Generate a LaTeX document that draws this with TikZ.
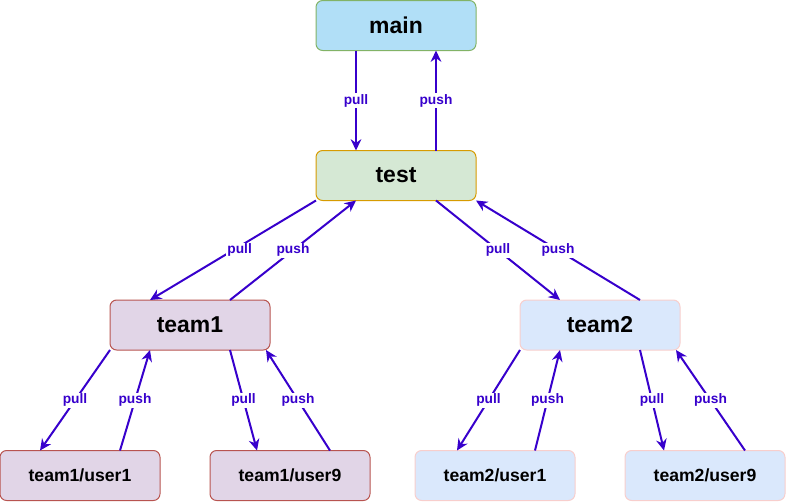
\documentclass[tikz,border=0pt]{standalone}
\usepackage{fontspec}
\setmainfont{Liberation Sans}
\usetikzlibrary{arrows.meta}
\definecolor{arrowc}{HTML}{3700CC}
\definecolor{mainfill}{HTML}{B1DFF7}
\definecolor{maindraw}{HTML}{82B366}
\definecolor{testfill}{HTML}{D5E8D4}
\definecolor{testdraw}{HTML}{D79B00}
\definecolor{purfill}{HTML}{E1D5E7}
\definecolor{purdraw}{HTML}{B85450}
\definecolor{blufill}{HTML}{DAE8FC}
\definecolor{bludraw}{HTML}{F8CECC}
\begin{document}
\begin{tikzpicture}[x=0.75pt,y=-0.75pt,
  box/.style={rounded corners=5pt, line width=0.75pt, minimum width=120pt, minimum height=37.5pt, inner sep=0pt, outer sep=0pt, font=\bfseries},
  bigbox/.style={box, font=\fontsize{17.2}{20}\selectfont\bfseries},
  smallbox/.style={box, font=\fontsize{13.2}{15}\selectfont\bfseries},
  mainbox/.style={bigbox, fill=mainfill, draw=maindraw},
  testbox/.style={bigbox, fill=testfill, draw=testdraw},
  purbox/.style={fill=purfill, draw=purdraw},
  blubox/.style={fill=blufill, draw=bludraw},
  conn/.style={draw=arrowc, line width=1.5pt, -{Stealth[length=8.5pt,width=8pt,inset=2.8pt]}},
  lbl/.style={fill=white, text=arrowc, font=\fontsize{10.3}{12}\selectfont\bfseries, inner sep=1pt, pos=0.5}
]
\useasboundingbox (0,0) rectangle (786,501);
\node[mainbox] (main) at (396,25.5) {main};
\node[testbox] (test) at (396,175.5) {test};
\node[bigbox, purbox] (team1) at (190,325) {team1};
\node[bigbox, blubox] (team2) at (600,325) {team2};
\node[smallbox, purbox] (t1u1) at (80,475.5) {team1/user1};
\node[smallbox, purbox] (t1u9) at (290,475.5) {team1/user9};
\node[smallbox, blubox] (t2u1) at (495,475.5) {team2/user1};
\node[smallbox, blubox] (t2u9) at (705,475.5) {team2/user9};

\draw[conn] ([xshift=-30pt]main.south) -- node[lbl] {pull} ([xshift=-30pt]test.north);
\draw[conn] ([xshift=30pt]test.north) -- node[lbl] {push} ([xshift=30pt]main.south);

\draw[conn] (test.south west) -- node[lbl, xshift=5pt] {pull} ([xshift=-30pt]team1.north);
\draw[conn] ([xshift=30pt]team1.north) -- node[lbl] {push} ([xshift=-30pt]test.south);
\draw[conn] ([xshift=30pt]test.south) -- node[lbl] {pull} ([xshift=-30pt]team2.north);
\draw[conn] ([xshift=30pt]team2.north) -- node[lbl] {push} (test.south east);

\draw[conn] (team1.south west) -- node[lbl] {pull} ([xshift=-30pt]t1u1.north);
\draw[conn] ([xshift=30pt]t1u1.north) -- node[lbl] {push} ([xshift=-30pt]team1.south);
\draw[conn] ([xshift=30pt]team1.south) -- node[lbl] {pull} ([xshift=-24.75pt]t1u9.north);
\draw[conn] ([xshift=30pt]t1u9.north) -- node[lbl] {push} ([xshift=-3pt]team1.south east);

\draw[conn] (team2.south west) -- node[lbl] {pull} ([xshift=-28.5pt]t2u1.north);
\draw[conn] ([xshift=30pt]t2u1.north) -- node[lbl] {push} ([xshift=-30pt]team2.south);
\draw[conn] ([xshift=30pt]team2.south) -- node[lbl] {pull} ([xshift=-30.75pt]t2u9.north);
\draw[conn] ([xshift=30pt]t2u9.north) -- node[lbl] {push} ([xshift=-3pt]team2.south east);
\end{tikzpicture}
\end{document}
